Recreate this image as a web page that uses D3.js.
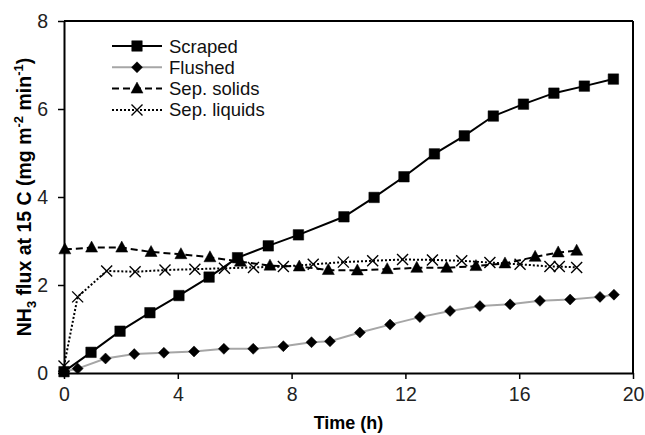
<!DOCTYPE html>
<html>
<head>
<meta charset="utf-8">
<script src="https://cdn.jsdelivr.net/npm/d3@7"></script>
<style>
  body { margin: 0; background: #fff; }
  text { font-family: "Liberation Sans", Arial, sans-serif; }
</style>
</head>
<body>
<div id="chart"></div>
<script>
const xTicks = [0, 4, 8, 12, 16, 20];
const yTicks = [0, 2, 4, 6, 8];

const scrapedT = [0, 0.95, 1.97, 3.02, 4.04, 5.1, 6.1, 7.18, 8.24, 9.84, 10.9, 11.95, 13.02, 14.07, 15.09, 16.15, 17.22, 18.29, 19.31];
const scrapedV = [0.03, 0.47, 0.95, 1.37, 1.76, 2.18, 2.62, 2.89, 3.14, 3.55, 3.99, 4.46, 4.98, 5.39, 5.84, 6.11, 6.36, 6.52, 6.68];

const flushedT = [0, 0.48, 1.46, 2.47, 3.51, 4.57, 5.62, 6.65, 7.71, 8.7, 9.35, 10.4, 11.46, 12.51, 13.57, 14.62, 15.68, 16.73, 17.79, 18.84, 19.33];
const flushedV = [0.03, 0.1, 0.33, 0.43, 0.46, 0.49, 0.55, 0.55, 0.61, 0.7, 0.72, 0.92, 1.1, 1.27, 1.41, 1.52, 1.56, 1.64, 1.67, 1.73, 1.78];

const solidsT = [0.03, 0.97, 2.03, 3.06, 4.11, 5.13, 6.2, 7.24, 8.27, 9.29, 10.31, 11.36, 12.4, 13.45, 14.48, 15.5, 16.56, 17.37, 18.02];
const solidsV = [2.81, 2.85, 2.85, 2.75, 2.7, 2.63, 2.53, 2.44, 2.42, 2.34, 2.33, 2.36, 2.39, 2.39, 2.43, 2.49, 2.64, 2.74, 2.78];

const liquidsT = [0, 0.48, 1.5, 2.5, 3.55, 4.6, 5.64, 6.66, 7.71, 8.76, 9.82, 10.85, 11.9, 12.95, 13.98, 14.97, 16.03, 17.08, 17.41, 18.02];
const liquidsV = [0.16, 1.73, 2.32, 2.3, 2.34, 2.36, 2.38, 2.4, 2.42, 2.47, 2.52, 2.55, 2.58, 2.57, 2.55, 2.51, 2.47, 2.42, 2.42, 2.4];

const series = [
  { name: "Scraped", t: scrapedT, v: scrapedV, color: "#000", dash: null, marker: "square" },
  { name: "Flushed", t: flushedT, v: flushedV, color: "#a6a6a6", dash: null, marker: "diamond" },
  { name: "Sep. solids", t: solidsT, v: solidsV, color: "#000", dash: "7,4", marker: "triangle" },
  { name: "Sep. liquids", t: liquidsT, v: liquidsV, color: "#000", dash: "2,2", marker: "cross" }
];

const W = 645, H = 435;
const margin = { top: 21, right: 12, bottom: 62, left: 64 };
const width = W - margin.left - margin.right, height = H - margin.top - margin.bottom;

const svg = d3.select("#chart").append("svg")
  .attr("width", W).attr("height", H);
const g = svg.append("g").attr("transform", `translate(${margin.left},${margin.top})`);

const x = d3.scaleLinear().domain([0, 20]).range([0, width]);
const y = d3.scaleLinear().domain([0, 8]).range([height, 0]);

// box top and right
g.append("line").attr("x1", 0).attr("x2", width).attr("y1", 0).attr("y2", 0)
  .attr("stroke", "#000").attr("stroke-width", 2);
g.append("line").attr("x1", width).attr("x2", width).attr("y1", 0).attr("y2", height)
  .attr("stroke", "#000").attr("stroke-width", 2);

const xAxis = g.append("g").attr("transform", `translate(0,${height})`)
  .call(d3.axisBottom(x).tickValues(xTicks).tickSize(6).tickPadding(8).tickSizeOuter(0));
const yAxis = g.append("g")
  .call(d3.axisLeft(y).tickValues(yTicks).tickSize(6).tickPadding(10).tickSizeOuter(0));
[xAxis, yAxis].forEach(a => {
  a.select(".domain").attr("stroke", "#000").attr("stroke-width", 2);
  a.selectAll(".tick line").attr("stroke", "#000").attr("stroke-width", 1.5);
  a.selectAll(".tick text").attr("fill", "#222")
    .style("font-family", "'Liberation Sans', Arial, sans-serif").style("font-size", "19.5px");
});

const symbolPath = (m) => {
  if (m === "square") return d3.symbol(d3.symbolSquare, 110)();
  if (m === "diamond") return "M0,-5.5L5.5,0L0,5.5L-5.5,0Z";
  if (m === "triangle") return "M0,-6.5L6,4.5L-6,4.5Z";
  return "M-5.5,-5.5L5.5,5.5M-5.5,5.5L5.5,-5.5";
};

const drawMarker = (sel, m) => {
  sel.append("path").attr("d", symbolPath(m))
    .attr("fill", m === "cross" ? "none" : "#000")
    .attr("stroke", "#000")
    .attr("stroke-width", m === "cross" ? 1.4 : 0.5);
};

const line = d3.line().x(d => x(d[0])).y(d => y(d[1]));

series.forEach(s => {
  const pts = s.t.map((t, i) => [t, s.v[i]]);
  g.append("path").datum(pts)
    .attr("d", line)
    .attr("fill", "none")
    .attr("stroke", s.color)
    .attr("stroke-width", 2)
    .attr("stroke-dasharray", s.dash);
  g.selectAll(null).data(pts).enter().append("g")
    .attr("transform", d => `translate(${x(d[0])},${y(d[1])})`)
    .each(function () { drawMarker(d3.select(this), s.marker); });
});

// legend
const legend = svg.append("g").attr("transform", "translate(112,46)");
series.forEach((s, i) => {
  const row = legend.append("g").attr("transform", `translate(0,${i * 21.3})`);
  row.append("line").attr("x1", 0).attr("x2", 50).attr("y1", 0).attr("y2", 0)
    .attr("stroke", s.color).attr("stroke-width", 2).attr("stroke-dasharray", s.dash);
  const mg = row.append("g").attr("transform", "translate(25,0)");
  drawMarker(mg, s.marker);
  row.append("text").attr("x", 57).attr("y", 6.5)
    .style("font-size", "18.5px").attr("fill", "#111").text(s.name);
});

// axis titles
svg.append("text")
  .attr("x", margin.left + width / 2).attr("y", 429)
  .attr("text-anchor", "middle")
  .style("font-size", "18px").style("font-weight", "bold")
  .text("Time (h)");

const yt = svg.append("text")
  .attr("transform", `translate(31,${margin.top + height / 2}) rotate(-90)`)
  .attr("text-anchor", "middle")
  .style("font-size", "19.5px").style("font-weight", "bold");
yt.append("tspan").text("NH");
yt.append("tspan").attr("dy", 5).style("font-size", "13px").text("3");
yt.append("tspan").attr("dy", -5).text(" flux at 15 C (mg m");
yt.append("tspan").attr("dy", -8).style("font-size", "13px").text("-2");
yt.append("tspan").attr("dy", 8).text(" min");
yt.append("tspan").attr("dy", -8).style("font-size", "13px").text("-1");
yt.append("tspan").attr("dy", 8).text(")");
</script>
</body>
</html>
